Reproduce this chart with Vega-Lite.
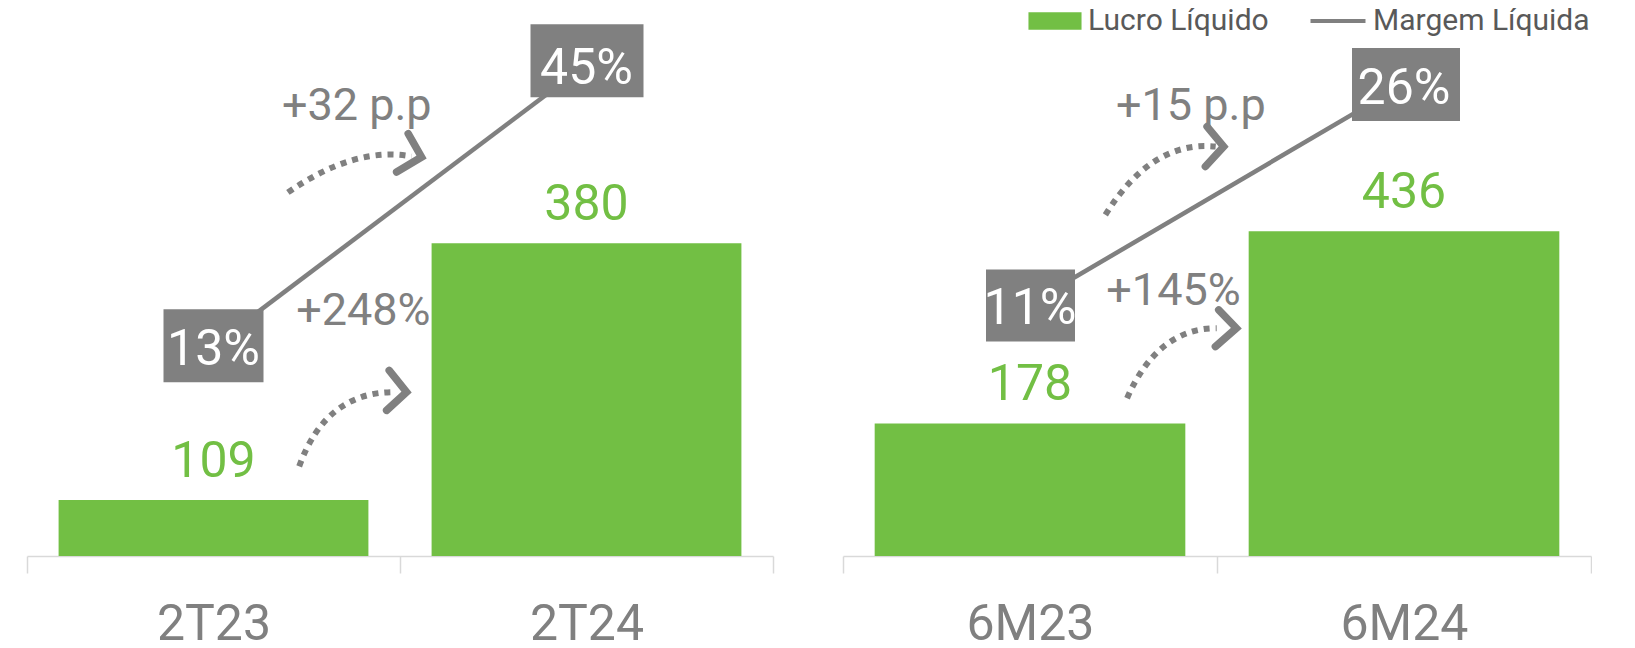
{
  "$schema": "https://vega.github.io/schema/vega-lite/v6.json",
  "padding": {"left": 26, "top": 0, "right": 0, "bottom": 0},
  "spacing": 68,
  "config": {
    "view": {"stroke": null},
    "legend": {"title": null, "padding": 0, "labelFont": "Roboto", "labelFontSize": 30, "labelColor": "#595959", "labelLimit": 500, "orient": "none"}
  },
  "hconcat": [
    {
      "width": 746,
      "height": 556,
      "data": {"values": [
        {"periodo": "2T23", "lucro": 109, "margem": 13, "margem_label": "13%"},
        {"periodo": "2T24", "lucro": 380, "margem": 45, "margem_label": "45%", "var_lucro": "+248%", "var_margem": "+32 p.p"}
      ]},
      "encoding": {
        "x": {"field": "periodo", "type": "nominal", "sort": null,
          "scale": {"paddingInner": 0, "paddingOuter": 0},
          "axis": {"title": null, "labelAngle": 0, "domainColor": "#D9D9D9", "domainWidth": 1.5, "tickColor": "#D9D9D9", "tickWidth": 1.5, "tickSize": 17, "tickBand": "extent", "labelFont": "Roboto", "labelFontSize": 50, "labelColor": "#808080", "labelPadding": 26}}
      },
      "layer": [
        {"mark": {"type": "bar", "clip": true, "width": {"band": 0.8306}},
         "encoding": {
           "y": {"field": "lucro", "type": "quantitative", "scale": {"domain": [50, 636.9], "zero": false, "nice": false}, "axis": null},
           "fill": {"datum": "Lucro Líquido", "type": "nominal", "scale": {"range": ["#72BF44"]},
             "legend": {"symbolType": "M-3,-1H3V1H-3Z", "symbolSize": 313, "symbolStrokeWidth": 0, "labelOffset": 18, "legendX": 1013, "legendY": 6}}
         }},
        {"mark": {"type": "text", "color": "#72BF44", "font": "Roboto", "fontSize": 50, "baseline": "alphabetic", "dy": -23},
         "encoding": {
           "y": {"field": "lucro", "type": "quantitative", "scale": {"domain": [50, 636.9], "zero": false, "nice": false}, "axis": null},
           "text": {"field": "lucro", "type": "quantitative"}
         }},
        {"mark": {"type": "line", "strokeWidth": 4.5},
         "encoding": {
           "y": {"field": "margem", "type": "quantitative", "scale": {"domain": [-10.99, 52.33], "zero": false, "nice": false}, "axis": null},
           "stroke": {"datum": "Margem Líquida", "type": "nominal", "scale": {"range": ["#808080"]},
             "legend": {"symbolType": "M-3,0H3", "symbolSize": 336, "symbolStrokeWidth": 4, "labelOffset": 20, "legendX": 1296, "legendY": 6}}
         }},
        {"mark": {"type": "point", "filled": true, "opacity": 1, "size": 4, "color": "#808080"},
         "encoding": {
           "y": {"field": "margem", "type": "quantitative", "scale": {"domain": [-10.99, 52.33], "zero": false, "nice": false}, "axis": null},
           "shape": {"field": "margem_label", "type": "nominal", "legend": null,
             "scale": {"domain": ["13%", "45%", "11%", "26%"], "range": ["M-50,-36H50V37H-50Z", "M-56,-40H57V33H-56Z", "M-44,-34H45V38H-44Z", "M-52,-36H56V37H-52Z"]}}
         }},
        {"mark": {"type": "text", "color": "white", "font": "Roboto", "fontSize": 50, "baseline": "alphabetic", "dy": 20},
         "encoding": {
           "y": {"field": "margem", "type": "quantitative", "scale": {"domain": [-10.99, 52.33], "zero": false, "nice": false}, "axis": null},
           "text": {"field": "margem_label", "type": "nominal"}
         }},
        {"transform": [{"filter": "datum.var_lucro != null"}],
         "mark": {"type": "text", "color": "#808080", "font": "Roboto", "fontSize": 45, "baseline": "alphabetic", "align": "right", "dx": -1, "dy": 82},
         "encoding": {
           "x": {"field": "periodo", "type": "nominal", "bandPosition": 0.0847},
           "y": {"field": "lucro", "type": "quantitative", "scale": {"domain": [50, 636.9], "zero": false, "nice": false}, "axis": null},
           "text": {"field": "var_lucro", "type": "nominal"}
         }},
        {"transform": [{"filter": "datum.var_margem != null"}],
         "mark": {"type": "text", "color": "#808080", "font": "Roboto", "fontSize": 45, "baseline": "alphabetic", "align": "right", "dx": 0, "dy": -123},
         "encoding": {
           "x": {"field": "periodo", "type": "nominal", "bandPosition": 0.0847},
           "y": {"field": "lucro", "type": "quantitative", "scale": {"domain": [50, 636.9], "zero": false, "nice": false}, "axis": null},
           "text": {"field": "var_margem", "type": "nominal"}
         }},
        {"transform": [{"filter": "datum.var_lucro != null"}],
         "mark": {"type": "point", "filled": false, "opacity": 1, "size": 4, "stroke": "#808080", "strokeWidth": 6, "strokeDash": [6, 6], "strokeCap": "butt",
           "shape": "M-132.4,223Q-106,149,-38,148.7M-143.7,-51Q-76.4,-97.4,-20,-87"},
         "encoding": {
           "x": {"field": "periodo", "type": "nominal", "bandPosition": 0.0847},
           "y": {"field": "lucro", "type": "quantitative", "scale": {"domain": [50, 636.9], "zero": false, "nice": false}, "axis": null}
         }},
        {"transform": [{"filter": "datum.var_lucro != null"}],
         "mark": {"type": "point", "filled": false, "opacity": 1, "size": 4, "stroke": "#808080", "strokeWidth": 7.5, "strokeCap": "round", "strokeJoin": "miter",
           "shape": "M-42.4,127L-25,148.7L-45,167M-23.4,-109.7L-10,-86.3L-35,-71.3"},
         "encoding": {
           "x": {"field": "periodo", "type": "nominal", "bandPosition": 0.0847},
           "y": {"field": "lucro", "type": "quantitative", "scale": {"domain": [50, 636.9], "zero": false, "nice": false}, "axis": null}
         }}
      ],
      "resolve": {"scale": {"y": "independent"}}
    },
    {
      "width": 748,
      "height": 556,
      "data": {"values": [
        {"periodo": "6M23", "lucro": 178, "margem": 11, "margem_label": "11%"},
        {"periodo": "6M24", "lucro": 436, "margem": 26, "margem_label": "26%", "var_lucro": "+145%", "var_margem": "+15 p.p"}
      ]},
      "encoding": {
        "x": {"field": "periodo", "type": "nominal", "sort": null,
          "scale": {"paddingInner": 0, "paddingOuter": 0},
          "axis": {"title": null, "labelAngle": 0, "domainColor": "#D9D9D9", "domainWidth": 1.5, "tickColor": "#D9D9D9", "tickWidth": 1.5, "tickSize": 17, "tickBand": "extent", "labelFont": "Roboto", "labelFontSize": 50, "labelColor": "#808080", "labelPadding": 26}}
      },
      "layer": [
        {"mark": {"type": "bar", "clip": true, "width": {"band": 0.8306}},
         "encoding": {
           "y": {"field": "lucro", "type": "quantitative", "scale": {"domain": [0, 746.3], "zero": false, "nice": false}, "axis": null},
           "fill": {"datum": "Lucro Líquido", "type": "nominal", "scale": {"range": ["#72BF44"]},
             "legend": {"symbolType": "M-3,-1H3V1H-3Z", "symbolSize": 313, "symbolStrokeWidth": 0, "labelOffset": 18, "legendX": 1013, "legendY": 6}}
         }},
        {"mark": {"type": "text", "color": "#72BF44", "font": "Roboto", "fontSize": 50, "baseline": "alphabetic", "dy": -23},
         "encoding": {
           "y": {"field": "lucro", "type": "quantitative", "scale": {"domain": [0, 746.3], "zero": false, "nice": false}, "axis": null},
           "text": {"field": "lucro", "type": "quantitative"}
         }},
        {"mark": {"type": "line", "strokeWidth": 4.5},
         "encoding": {
           "y": {"field": "margem", "type": "quantitative", "scale": {"domain": [-6.26, 31.75], "zero": false, "nice": false}, "axis": null},
           "stroke": {"datum": "Margem Líquida", "type": "nominal", "scale": {"range": ["#808080"]},
             "legend": {"symbolType": "M-3,0H3", "symbolSize": 336, "symbolStrokeWidth": 4, "labelOffset": 20, "legendX": 1296, "legendY": 6}}
         }},
        {"mark": {"type": "point", "filled": true, "opacity": 1, "size": 4, "color": "#808080"},
         "encoding": {
           "y": {"field": "margem", "type": "quantitative", "scale": {"domain": [-6.26, 31.75], "zero": false, "nice": false}, "axis": null},
           "shape": {"field": "margem_label", "type": "nominal", "legend": null,
             "scale": {"domain": ["13%", "45%", "11%", "26%"], "range": ["M-50,-36H50V37H-50Z", "M-56,-40H57V33H-56Z", "M-44,-34H45V38H-44Z", "M-52,-36H56V37H-52Z"]}}
         }},
        {"mark": {"type": "text", "color": "white", "font": "Roboto", "fontSize": 50, "baseline": "alphabetic", "dy": 20},
         "encoding": {
           "y": {"field": "margem", "type": "quantitative", "scale": {"domain": [-6.26, 31.75], "zero": false, "nice": false}, "axis": null},
           "text": {"field": "margem_label", "type": "nominal"}
         }},
        {"transform": [{"filter": "datum.var_lucro != null"}],
         "mark": {"type": "text", "color": "#808080", "font": "Roboto", "fontSize": 45, "baseline": "alphabetic", "align": "right", "dx": -8, "dy": 74},
         "encoding": {
           "x": {"field": "periodo", "type": "nominal", "bandPosition": 0.0847},
           "y": {"field": "lucro", "type": "quantitative", "scale": {"domain": [0, 746.3], "zero": false, "nice": false}, "axis": null},
           "text": {"field": "var_lucro", "type": "nominal"}
         }},
        {"transform": [{"filter": "datum.var_margem != null"}],
         "mark": {"type": "text", "color": "#808080", "font": "Roboto", "fontSize": 45, "baseline": "alphabetic", "align": "right", "dx": 17, "dy": -111},
         "encoding": {
           "x": {"field": "periodo", "type": "nominal", "bandPosition": 0.0847},
           "y": {"field": "lucro", "type": "quantitative", "scale": {"domain": [0, 746.3], "zero": false, "nice": false}, "axis": null},
           "text": {"field": "var_margem", "type": "nominal"}
         }},
        {"transform": [{"filter": "datum.var_lucro != null"}],
         "mark": {"type": "point", "filled": false, "opacity": 1, "size": 4, "stroke": "#808080", "strokeWidth": 6, "strokeDash": [6, 6], "strokeCap": "butt",
           "shape": "M-121.6,167Q-90.8,97,-32,97M-143.3,-16.3Q-97,-91,-33,-84.6"},
         "encoding": {
           "x": {"field": "periodo", "type": "nominal", "bandPosition": 0.0847},
           "y": {"field": "lucro", "type": "quantitative", "scale": {"domain": [0, 746.3], "zero": false, "nice": false}, "axis": null}
         }},
        {"transform": [{"filter": "datum.var_lucro != null"}],
         "mark": {"type": "point", "filled": false, "opacity": 1, "size": 4, "stroke": "#808080", "strokeWidth": 7.5, "strokeCap": "round", "strokeJoin": "miter",
           "shape": "M-30,78.7L-12.3,97L-33.3,115.4M-41.6,-104.6L-25,-84.6L-43.3,-64.6"},
         "encoding": {
           "x": {"field": "periodo", "type": "nominal", "bandPosition": 0.0847},
           "y": {"field": "lucro", "type": "quantitative", "scale": {"domain": [0, 746.3], "zero": false, "nice": false}, "axis": null}
         }}
      ],
      "resolve": {"scale": {"y": "independent"}}
    }
  ]
}
